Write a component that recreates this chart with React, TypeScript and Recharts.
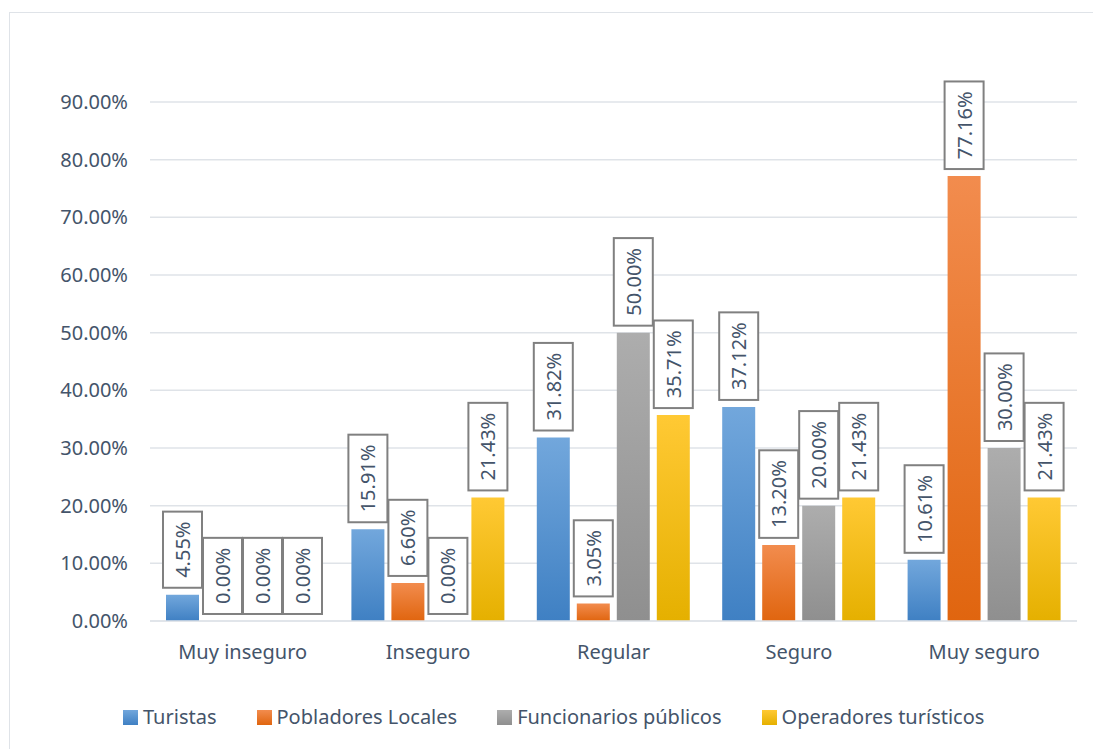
import React from "react";
import { Bar, BarChart, CartesianGrid, LabelList, Legend, XAxis, YAxis } from "recharts";

const categories = ["Muy inseguro", "Inseguro", "Regular", "Seguro", "Muy seguro"];
const turistas = [4.55, 15.91, 31.82, 37.12, 10.61];
const pobladores = [0, 6.6, 3.05, 13.2, 77.16];
const funcionarios = [0, 0, 50.0, 20.0, 30.0];
const operadores = [0, 21.43, 35.71, 21.43, 21.43];
const yTicks = [0, 10, 20, 30, 40, 50, 60, 70, 80, 90];

const series = [
	{ key: "turistas", name: "Turistas", values: turistas, top: "#72a7dc", bottom: "#3f80c3" },
	{ key: "pobladores", name: "Pobladores Locales", values: pobladores, top: "#f28c4e", bottom: "#e0650f" },
	{ key: "funcionarios", name: "Funcionarios públicos", values: funcionarios, top: "#adadad", bottom: "#8f8f8f" },
	{ key: "operadores", name: "Operadores turísticos", values: operadores, top: "#ffc934", bottom: "#e5b000" },
];

const data = categories.map((c, i) => {
	const row: Record<string, string | number> = { name: c };
	series.forEach((s) => (row[s.key] = s.values[i]));
	return row;
});

const FONT = "'Noto Sans', sans-serif";
const TEXT = "#44546a";

const fmt = (v: number) => v.toFixed(2) + "%";

// rough text width for Noto Sans
const textWidth = (s: string, size: number) => {
	let w = 0;
	for (const ch of s) {
		if (ch === ".") w += 0.268;
		else if (ch === "%") w += 0.823;
		else w += 0.572;
	}
	return w * size;
};

const BoxLabel = (props: any) => {
	const { x, y, width, value } = props;
	const txt = fmt(Number(value));
	const cx = x + width / 2;
	const h = textWidth(txt, 20) + 20;
	const w = 39;
	const bottom = y - 7;
	const cy = bottom - h / 2;
	return (
		<g>
			<rect x={cx - w / 2} y={bottom - h} width={w} height={h} fill="#fff" stroke="#808080" strokeWidth={2} />
			<text
				x={cx}
				y={cy}
				transform={`rotate(-90, ${cx}, ${cy})`}
				textAnchor="middle"
				dominantBaseline="central"
				fill={TEXT}
				fontSize={20}
				fontFamily={FONT}>
				{txt}
			</text>
		</g>
	);
};

const LegendBox = () => (
	<div style={{ display: "flex", gap: 40, paddingLeft: 123, fontFamily: FONT, fontSize: 20, color: TEXT, lineHeight: "30px" }}>
		{series.map((s) => (
			<div key={s.key} style={{ display: "flex", alignItems: "center", gap: 5 }}>
				<div style={{ width: 15, height: 15, background: `linear-gradient(${s.top}, ${s.bottom})` }} />
				<span>{s.name}</span>
			</div>
		))}
	</div>
);

// zero bars get a hairline so their labels still show
const minSize = (value: number) => (value === 0 ? 0.01 : 0);

export default function App() {
	return (
		<div style={{ position: "absolute", left: 0, top: 0, width: 1093, height: 749, background: "#fff", overflow: "hidden" }}>
			<div
				style={{
					position: "absolute",
					left: 9,
					top: 12,
					width: 1100,
					height: 760,
					border: "1.5px solid #dfe3e8",
				}}
			/>
			<BarChart
				width={1093}
				height={749}
				data={data}
				margin={{ top: 102, right: 16, bottom: 98, left: 10 }}
				barSize={33}
				barGap={7}
				style={{ position: "absolute", left: 0, top: 0 }}>
				<defs>
					{series.map((s) => (
						<linearGradient key={s.key} id={`g-${s.key}`} x1="0" y1="0" x2="0" y2="1">
							<stop offset="0%" stopColor={s.top} />
							<stop offset="100%" stopColor={s.bottom} />
						</linearGradient>
					))}
				</defs>
				<CartesianGrid vertical={false} stroke="#dfe3e8" strokeWidth={1.5} />
				<XAxis
					dataKey="name"
					axisLine={{ stroke: "#dfe3e8", strokeWidth: 1.5 }}
					tickLine={false}
					tickMargin={18}
					tick={{ fill: TEXT, fontSize: 20, fontFamily: FONT }}
				/>
				<YAxis
					width={140}
					domain={[0, 90]}
					ticks={yTicks}
					tickFormatter={fmt}
					axisLine={false}
					tickLine={false}
					tickMargin={16}
					tick={{ fill: TEXT, fontSize: 20, fontFamily: FONT }}
				/>
				<Legend verticalAlign="middle" align="center" layout="horizontal" wrapperStyle={{ left: 0, top: 702, width: 1093 }} content={() => <LegendBox />} />
				{series.map((s) => (
					<Bar key={s.key} dataKey={s.key} name={s.name} fill={`url(#g-${s.key})`} minPointSize={minSize} isAnimationActive={false}>
						<LabelList dataKey={s.key} content={<BoxLabel />} />
					</Bar>
				))}
			</BarChart>
		</div>
	);
}
